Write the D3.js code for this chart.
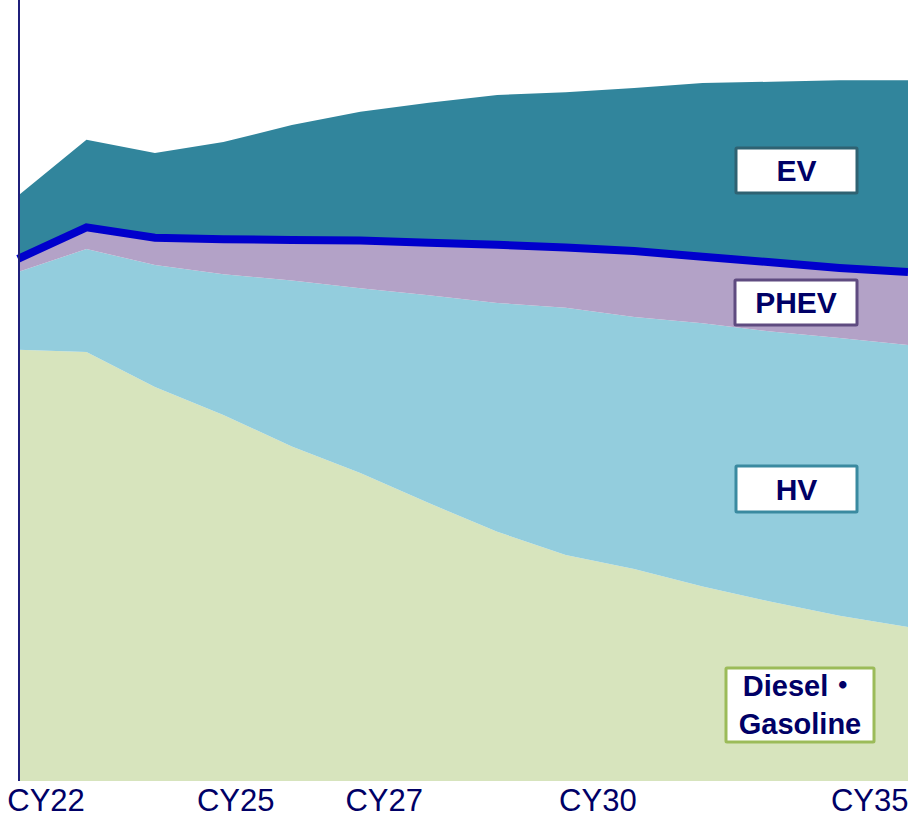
<!DOCTYPE html>
<html>
<head>
<meta charset="utf-8">
<script src="https://cdn.jsdelivr.net/npm/d3@7/dist/d3.min.js"></script>
<style>
  html, body { margin: 0; padding: 0; background: #fff; }
  svg { display: block; }
</style>
</head>
<body>
<div id="chart"></div>
<script>
// ---- data ----
const years = ["CY22","CY23","CY24","CY25","CY26","CY27","CY28","CY29","CY30","CY31","CY32","CY33","CY34","CY35"];
const diesel = [61.6, 61.3, 56.3, 52.3, 47.8, 44.0, 39.7, 35.6, 32.3, 30.3, 27.8, 25.6, 23.6, 22.0];
const hv     = [11.1, 14.7, 17.4, 20.1, 23.7, 26.4, 29.7, 32.7, 35.3, 36.0, 37.6, 38.6, 39.7, 40.3];
const phev   = [1.9, 3.1, 3.9, 5.0, 5.8, 6.8, 7.5, 8.3, 8.6, 9.4, 9.5, 9.9, 10.0, 10.4];
const ev     = [9.0, 12.5, 12.1, 13.9, 16.4, 18.4, 20.0, 21.4, 22.2, 23.3, 24.8, 25.8, 26.8, 27.4];
const seriesNames = ["Diesel・Gasoline", "HV", "PHEV", "EV"];
const tickLabels = ["CY22", "CY25", "CY27", "CY30", "CY35"];
const tickAt = [0.41, 3.18, 5.35, 8.47, 12.44];   // label anchor, in year-index units

// ---- layout ----
const W = 908, H = 818;
const svg = d3.select("#chart").append("svg").attr("width", W).attr("height", H);

const x = d3.scaleLinear().domain([0, years.length - 1]).range([18, 908]);
const y = d3.scaleLinear().domain([0, 100]).range([781, 81]);

const rows = years.map((yr, i) => ({ i, "Diesel・Gasoline": diesel[i], HV: hv[i], PHEV: phev[i], EV: ev[i] }));
const stack = d3.stack().keys(seriesNames)(rows);

const colors = { "Diesel・Gasoline": "#d7e4bd", HV: "#93cddd", PHEV: "#b3a2c7", EV: "#31859c" };

const area = d3.area()
  .x(d => x(d.data.i))
  .y0(d => y(d[0]))
  .y1(d => y(d[1]));

svg.append("g").selectAll("path").data(stack).join("path")
  .attr("d", area)
  .attr("fill", d => colors[d.key]);

// blue separator line between PHEV and EV
const phevLayer = stack[2];
svg.append("path")
  .datum(phevLayer)
  .attr("d", d3.line().x(d => x(d.data.i)).y(d => y(d[1])))
  .attr("fill", "none")
  .attr("stroke", "#0000cc")
  .attr("stroke-width", 8);

// vertical axis line
svg.append("line")
  .attr("x1", 19).attr("x2", 19).attr("y1", 0).attr("y2", y(0))
  .attr("stroke", "#1f1f7a").attr("stroke-width", 2);

// x tick labels
svg.append("g").selectAll("text").data(tickLabels).join("text")
  .attr("x", (d, k) => x(tickAt[k]))
  .attr("y", 811)
  .attr("text-anchor", "middle")
  .attr("font-family", "'Liberation Sans Narrow', 'Arial Narrow', 'Liberation Sans', sans-serif")
  .attr("font-size", 31)
  .attr("fill", "#000066")
  .text(d => d);

// label boxes
const boxes = [
  { lines: ["EV"], x0: 736, y0: 148, w: 121, h: 45, stroke: "#2f6272", fs: 30 },
  { lines: ["PHEV"], x0: 735, y0: 280, w: 122, h: 45, stroke: "#5f4b80", fs: 30 },
  { lines: ["HV"], x0: 736, y0: 466, w: 121, h: 46, stroke: "#3a8aa0", fs: 30 },
  { lines: ["Diesel・", "Gasoline"], x0: 726, y0: 668, w: 148, h: 74, stroke: "#9bbb59", fs: 29 }
];
const bg = svg.append("g");
boxes.forEach(b => {
  bg.append("rect")
    .attr("x", b.x0).attr("y", b.y0).attr("width", b.w).attr("height", b.h)
    .attr("fill", "#fff").attr("stroke", b.stroke).attr("stroke-width", 3).attr("rx", 1);
  const n = b.lines.length;
  b.lines.forEach((t, k) => {
    const txt = bg.append("text")
      .attr("x", b.x0 + b.w / 2)
      .attr("y", b.y0 + b.h / 2 + (k - (n - 1) / 2) * 38 + b.fs * 0.36)
      .attr("text-anchor", "middle")
      .attr("font-family", "'Liberation Sans', Arial, sans-serif")
      .attr("font-weight", "bold")
      .attr("font-size", b.fs)
      .attr("fill", "#000066");
    if (t.endsWith("・")) {
      txt.append("tspan").text(t.slice(0, -1));
      txt.append("tspan").attr("font-family", "'Noto Sans CJK JP', sans-serif").text("・");
    } else {
      txt.text(t);
    }
  });
});
</script>
</body>
</html>
